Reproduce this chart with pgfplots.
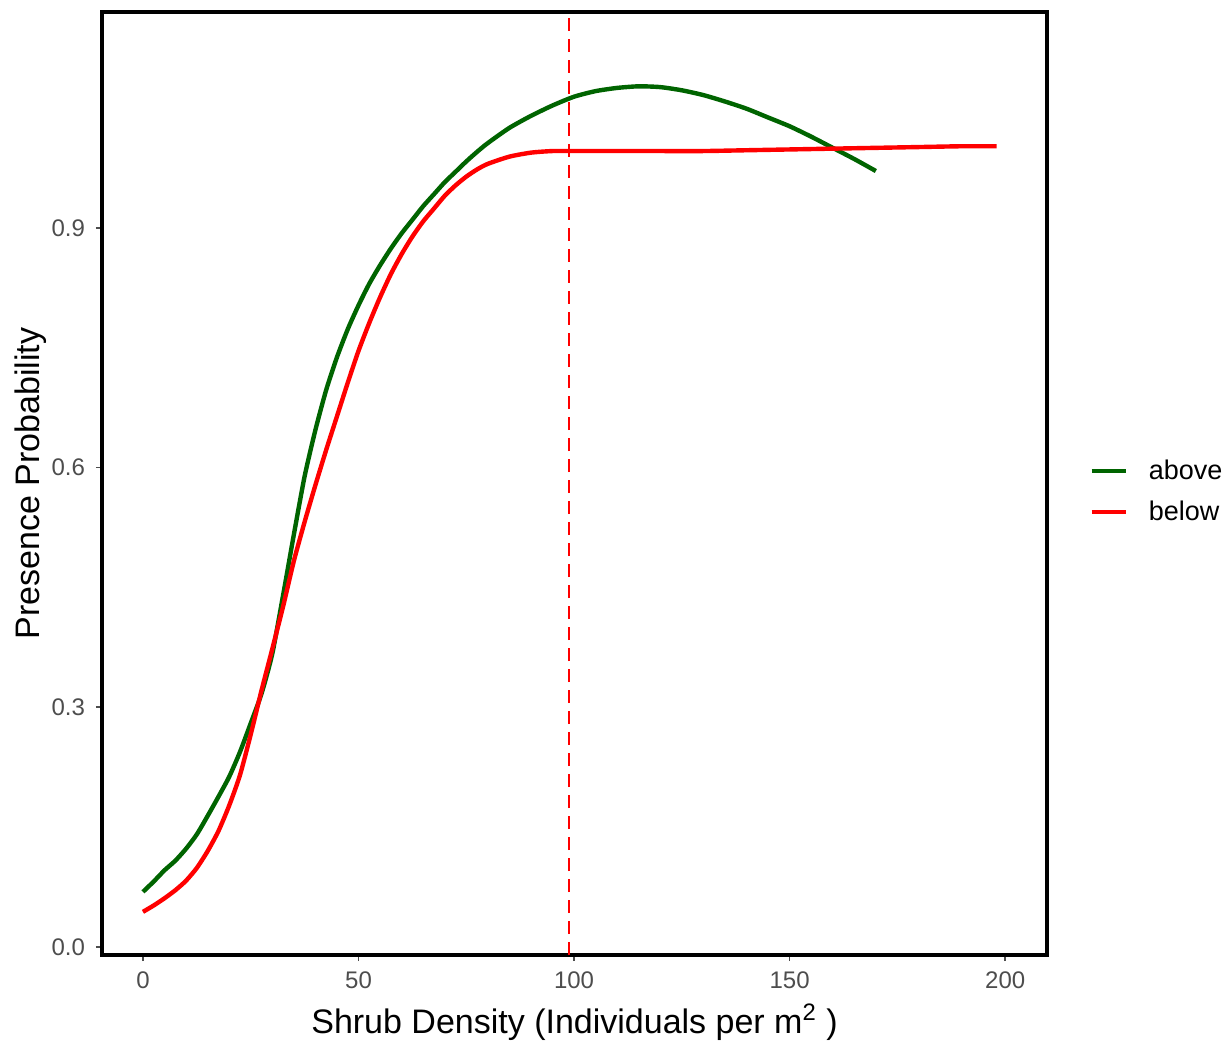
\documentclass[border=0pt]{standalone}
\usepackage{pgfplots}
\pgfplotsset{compat=1.18}
\usepackage{pgfplotstable}
\usepackage{fontspec}
\setmainfont{Liberation Sans}
\definecolor{ggreen}{HTML}{006400}
\definecolor{gred}{HTML}{FF0000}
\definecolor{tickgray}{HTML}{4D4D4D}

\pgfplotstableread{
x y
0 0.069
2.5 0.082
5 0.096
7.5 0.108
10 0.123
12.5 0.141
15 0.164
17.5 0.188
20 0.213
22.5 0.244
25 0.280
27.5 0.317
30 0.367
32.5 0.440
35 0.516
37.5 0.589
40 0.647
42.5 0.697
45 0.738
47.5 0.773
50 0.803
52.5 0.830
55 0.853
57.5 0.874
60 0.893
62.5 0.910
65 0.927
67.5 0.942
70 0.957
72.5 0.970
75 0.983
77.5 0.995
80 1.006
85 1.025
90 1.040
95 1.053
100 1.064
105 1.071
110 1.075
115 1.077
120 1.076
125 1.072
130 1.066
135 1.058
140 1.049
145 1.038
150 1.027
155 1.014
160 1.000
165 0.986
170 0.971
}\above

\pgfplotstableread{
x y
0 0.044
2.5 0.052
5 0.061
7.5 0.071
10 0.083
12.5 0.099
15 0.120
17.5 0.145
20 0.177
22.5 0.215
25 0.266
27.5 0.321
30 0.373
32.5 0.426
35 0.483
37.5 0.532
40 0.578
42.5 0.622
45 0.664
47.5 0.706
50 0.746
52.5 0.781
55 0.813
57.5 0.842
60 0.867
62.5 0.889
65 0.908
67.5 0.924
70 0.940
72.5 0.953
75 0.964
77.5 0.973
80 0.980
85 0.989
90 0.994
95 0.996
100 0.996
110 0.996
120 0.996
130 0.996
140 0.997
150 0.998
160 0.999
170 1.000
180 1.001
190 1.002
198 1.002
}\below

\begin{document}
\begin{tikzpicture}[x=1pt,y=1pt]
\useasboundingbox (0,0) rectangle (612.5,520);
\begin{axis}[
  at={(51pt,42.5pt)}, anchor=south west,
  scale only axis, width=472.5pt, height=471.5pt,
  xmin=-9.5, xmax=209.7, ymin=-0.01, ymax=1.170,
  axis line style={line width=2pt, black},
  xtick={0,50,100,150,200},
  ytick={0,0.3,0.6,0.9},
  yticklabel style={/pgf/number format/fixed, /pgf/number format/fixed zerofill, /pgf/number format/precision=1, xshift=-2pt},
  /pgf/number format/assume math mode=true,
  tick align=outside, tick pos=left,
  major tick length=3pt,
  every tick/.style={tickgray, line width=0.8pt},
  ticklabel style={font=\fontsize{12}{14}\selectfont, text=tickgray},
  xticklabel style={yshift=-2pt},
  xlabel={Shrub Density (Individuals per m\textsuperscript{2} )},
  ylabel={Presence Probability},
  label style={font=\fontsize{17}{20}\selectfont},
  xlabel style={at={(axis description cs:0.5,0)}, anchor=base, yshift=-39pt},
  ylabel style={at={(axis description cs:0,0.5)}, anchor=base, yshift=31pt},
  legend style={draw=none, fill=none, at={(axis description cs:1,0.5)}, anchor=west, xshift=18pt, yshift=-4pt,
    font=\fontsize{13.5}{15}\selectfont, row sep=6.5pt, column sep=9pt,
    nodes={inner sep=1.5pt}},
  legend cell align=left,
  legend image code/.code={\draw[#1] (0pt,0pt) -- (17pt,0pt);},
  clip=true,
]
\addplot[ggreen, line width=2.2pt, smooth, tension=0.4] table[x=x,y=y] {\above};
\addlegendentry{above}
\addplot[gred, line width=2.2pt, smooth, tension=0.4] table[x=x,y=y] {\below};
\addlegendentry{below}
\addplot[gred, line width=1.1pt, dash pattern=on 6.5pt off 4pt, forget plot] coordinates {(98.9,-0.01) (98.9,1.17)};
\end{axis}
\end{tikzpicture}
\end{document}
